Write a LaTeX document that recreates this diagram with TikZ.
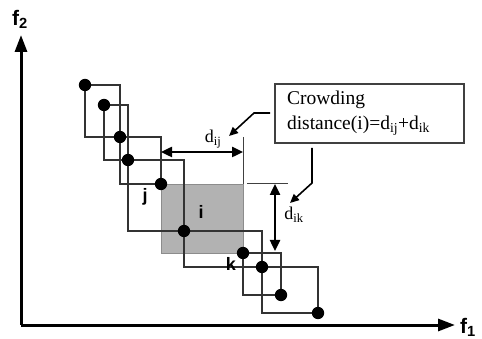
\documentclass[tikz,border=0pt]{standalone}
\usepackage{fontspec}
\setmainfont{Liberation Serif}
\newfontfamily\axisfont{Liberation Sans}
\usetikzlibrary{arrows.meta}

\begin{document}
\begin{tikzpicture}[x=1pt,y=-1pt,>={Triangle[length=11pt,width=10pt]},
    cuboid/.style={draw=black!80,line width=1.3pt},
    dimline/.style={line width=2.4pt,<->},
    extline/.style={draw=black!75,line width=1pt},
    leader/.style={line width=1.6pt,-{Triangle[length=9pt,width=8pt]}},
    axis/.style={line width=3pt,-{Triangle[length=17pt,width=12pt]}},
    ptlabel/.style={font=\axisfont\bfseries\fontsize{18}{18}\selectfont},
    axislabel/.style={font=\axisfont\bfseries\fontsize{21}{21}\selectfont,inner sep=0pt},
    dlabel/.style={font=\fontsize{18}{18}\selectfont,inner sep=0pt}]
    \def\dotr{6.2}
    \useasboundingbox (0,0) rectangle (482,339);

    %======================================================
    % axes
    %======================================================
    \coordinate (O) at (21,325);
    \coordinate (X) at (455,325);
    \coordinate (Y) at (21,35);
    \draw[axis] (O) -- (X);
    \draw[axis] (O) -- (Y);
    \node[axislabel,anchor=west] (f1) at (460,327) {f\textsubscript{1}};
    \node[axislabel] (f2) at (20,19) {f\textsubscript{2}};

    %======================================================
    % points of the front
    %======================================================
    \foreach \n/\px/\py in {1/85/85, 2/104/105, 3/120/137, 4/128/160,
        5/161/184, 6/184/231, 7/243/253, 8/262/267, 9/281/295, 10/318/313}{
        \coordinate (p\n) at (\px,\py);
    }

    % cuboid of i (shaded)
    \filldraw[fill=black!30,draw=black!45,line width=0.8pt] (p5) rectangle (p7);

    % cuboids of the other points
    \foreach \a/\b in {1/3,2/4,3/5,4/6,6/8,7/9,8/10}{
        \draw[cuboid] (p\a) rectangle (p\b);
    }

    % points
    \foreach \n in {1,...,10}{
        \fill (p\n) circle (\dotr);
    }

    \node[ptlabel] (j) at (145,197) {j};
    \node[ptlabel] (i) at (201,212) {i};
    \node[ptlabel] (k) at (231,264) {k};

    %======================================================
    % distances d_ij and d_ik
    %======================================================
    \coordinate (Eij1) at (243,137);
    \coordinate (Eij2) at (243,184);
    \coordinate (Eik1) at (247,184);
    \coordinate (Eik2) at (288,184);
    \draw[extline] (Eij1) -- (Eij2);
    \draw[extline] (Eik1) -- (Eik2);

    \coordinate (Dij1) at (161,152);
    \coordinate (Dij2) at (243,152);
    \coordinate (Dik1) at (275,184);
    \coordinate (Dik2) at (275,251);
    \draw[dimline] (Dij1) -- (Dij2);
    \draw[dimline] (Dik1) -- (Dik2);

    \node[dlabel] (dij) at (213,139) {d\textsubscript{ij}};
    \node[dlabel] (dik) at (294,215) {d\textsubscript{ik}};

    %======================================================
    % note box with leaders
    %======================================================
    \node[draw=black!75,line width=1.3pt,minimum height=59pt,text width=165pt,
        inner xsep=12pt,align=left,font=\fontsize{19.5}{25}\selectfont] (note)
        at (369.5,113.5) {Crowding\\distance(i)=d\textsubscript{ij}+d\textsubscript{ik}};

    \coordinate (L1a) at (270,113);
    \coordinate (L1b) at (254,113);
    \coordinate (L1c) at (229,136);
    \draw[leader] (L1a) -- (L1b) -- (L1c);

    \coordinate (L2a) at (312,148);
    \coordinate (L2b) at (312,183);
    \coordinate (L2c) at (290,203);
    \draw[leader] (L2a) -- (L2b) -- (L2c);
\end{tikzpicture}
\end{document}
